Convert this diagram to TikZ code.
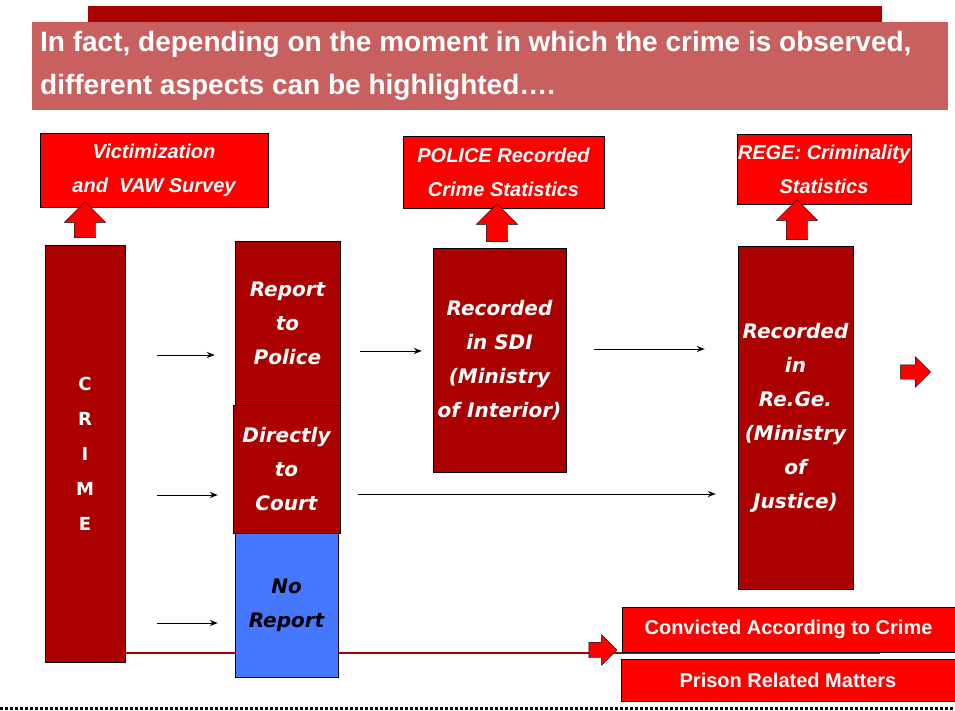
\documentclass[tikz,border=0pt]{standalone}
\usepackage{fontspec}
\setmainfont{Liberation Sans}
\newfontfamily\heavyfont{DejaVu Sans}
\usetikzlibrary{arrows.meta}
\usetikzlibrary{backgrounds}
\usetikzlibrary{shapes.arrows}

\definecolor{boxdark}{RGB}{170,0,0}
\definecolor{boxred}{RGB}{255,0,0}
\definecolor{titlerose}{RGB}{200,96,96}
\definecolor{noblue}{RGB}{70,120,255}

\begin{document}
\begin{tikzpicture}[x=1pt,y=-1pt,
  every node/.style={draw=black,align=center,inner sep=0pt},
  darkbox/.style={fill=boxdark,text=white,font=\heavyfont\bfseries\itshape\fontsize{20}{34}\selectfont},
  redbox/.style={fill=boxred,text=white,font=\bfseries\itshape\fontsize{20}{34}\selectfont},
  flatbox/.style={fill=boxred,text=white,font=\bfseries\fontsize{20}{22}\selectfont},
  blockarrow/.style={single arrow,fill=boxred,inner xsep=0pt,inner ysep=10.5pt,single arrow head extend=10pt},
  uparrow/.style={blockarrow,shape border rotate=90,inner xsep=10.5pt,inner ysep=0pt},
  >={Stealth[length=8pt,width=6pt]}]
\useasboundingbox (0,0) rectangle (955,711);

% heading
\fill[boxdark] (88,6) rectangle (882,22);
\fill[titlerose] (32,22) rectangle (948,110);
\node[draw=none,anchor=west,align=left,text=white,font=\bfseries\fontsize{28}{43}\selectfont] (title) at (40,66)
  {In fact, depending on the moment in which the crime is observed,\\different aspects can be highlighted\dots.};

% statistics on top
\node[redbox,minimum width=228pt,minimum height=74pt](vict) at (154,170) {Victimization\\and\ \ VAW Survey};
\node[redbox,minimum width=201pt,minimum height=72pt](police) at (503.5,172) {POLICE Recorded\\Crime Statistics};
\node[redbox,minimum width=174pt,minimum height=70pt](rege) at (824,169) {REGE: Criminality\\Statistics};

% flow
\node[darkbox,minimum width=80pt,minimum height=417pt,font=\heavyfont\bfseries\fontsize{18}{35}\selectfont](crime) at (85,453.5) {C\\R\\I\\M\\E};
\node[darkbox,minimum width=105pt,minimum height=164pt](report) at (287.5,323) {Report\\to\\Police};
\node[darkbox,minimum width=107pt,minimum height=128pt](direct) at (286.5,469) {Directly\\to\\Court};
\node[darkbox,fill=noblue,text=black,minimum width=103pt,minimum height=144pt](noreport) at (286.5,605) {No\\Report};
\node[darkbox,minimum width=133pt,minimum height=224pt](sdi) at (499.5,360) {Recorded\\in SDI\\(Ministry\\of Interior)};
\node[darkbox,minimum width=115pt,minimum height=343pt](regege) at (795.5,417.5) {Recorded\\in\\Re.Ge.\\(Ministry\\of\\Justice)};
\node[flatbox,minimum width=333pt,minimum height=45pt](convicted) at (788.5,629.5) {Convicted According to Crime};
\node[flatbox,minimum width=334pt,minimum height=42pt](prison) at (788,680) {Prison Related Matters};

% block arrows
\node[uparrow,minimum height=36pt](up1) at (85,225) {};
\node[uparrow,minimum height=38pt](up2) at (497,228) {};
\node[uparrow,minimum height=40pt](up3) at (797,225) {};
\node[blockarrow,minimum height=30pt,inner ysep=7pt,single arrow head extend=8pt](right1) at (912,372) {};
\node[blockarrow,minimum height=28pt,inner ysep=7.5pt,single arrow head extend=7.5pt](right2) at (599,650) {};

\coordinate (lineend) at (880,653);
\begin{scope}[on background layer]
\draw[boxdark,line width=1.5pt] (crime.east |- 0,653) -- (lineend);
\end{scope}

\draw[->,line width=1pt,shorten <=32pt,shorten >=20pt] (crime.east |- 0,355) -- (report.west |- 0,355);
\draw[->,line width=1pt,shorten <=32pt,shorten >=15pt] (crime.east |- 0,495) -- (direct.west |- 0,495);
\draw[->,line width=1pt,shorten <=32pt,shorten >=17pt] (crime.east |- 0,623) -- (noreport.west |- 0,623);
\draw[->,line width=1pt,shorten <=20pt,shorten >=11pt] (report.east |- 0,351) -- (sdi.west |- 0,351);
\draw[->,line width=1pt,shorten <=28pt,shorten >=33pt] (sdi.east |- 0,349) -- (regege.west |- 0,349);
\draw[->,line width=1pt,shorten <=18pt,shorten >=22pt] (direct.east |- 0,494) -- (regege.west |- 0,494);

% dotted rule
\draw[line width=3pt,dash pattern=on 2.5pt off 2.5pt] (0,708) -- (955,708);
\end{tikzpicture}
\end{document}
